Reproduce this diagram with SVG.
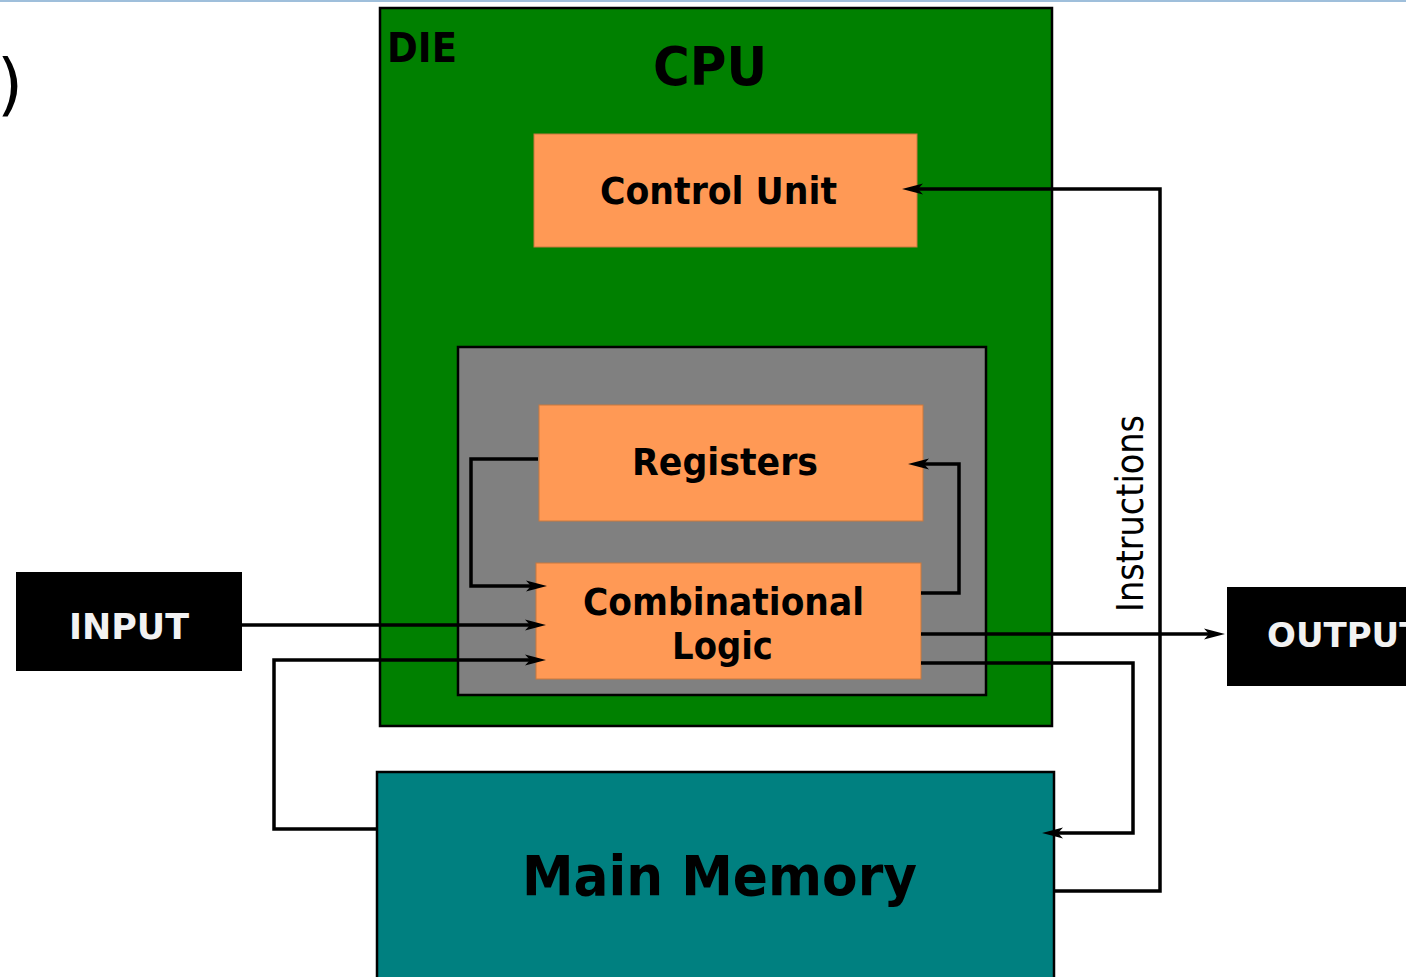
<svg xmlns="http://www.w3.org/2000/svg" width="1406" height="977" viewBox="0 0 1406 977">
<style>
.lbl{font-family:"DejaVu Sans","Liberation Sans",sans-serif;font-weight:bold;fill:#000}
.wlbl{font-family:"DejaVu Sans","Liberation Sans",sans-serif;font-weight:bold;fill:#f2f2f2}
.orange{fill:#ff9955;stroke:#c8783f;stroke-width:1}
.wire{fill:none;stroke:#000;stroke-width:3.5;stroke-linejoin:miter}
</style>
<defs>
<marker id="arr" viewBox="-22 -7 23 14" markerWidth="23" markerHeight="14" refX="-13" refY="0" orient="auto" markerUnits="userSpaceOnUse">
<path d="M0,0 L-21,-5.5 L-16,0 L-21,5.5 Z" fill="#000"/>
</marker>
</defs>
<rect x="0" y="0" width="1406" height="2" fill="#9fbfdb"/>
<text x="-3" y="108" font-family="DejaVu Sans, sans-serif" font-size="67" fill="#000">)</text>

<g id="die">
<rect x="380" y="8" width="672" height="718" fill="#008000" stroke="#000" stroke-width="2.5"/>
<text class="lbl" x="387" y="62" font-size="40" textLength="70" lengthAdjust="spacingAndGlyphs">DIE</text>
<text class="lbl" x="710" y="85" font-size="53" text-anchor="middle" textLength="114" lengthAdjust="spacingAndGlyphs">CPU</text>
</g>

<g id="control-unit">
<rect class="orange" x="534" y="134" width="383" height="113"/>
<text class="lbl" x="718.5" y="204" font-size="37" text-anchor="middle" textLength="237" lengthAdjust="spacingAndGlyphs">Control Unit</text>
</g>

<g id="alu-area">
<rect x="458" y="347" width="528" height="348" fill="#808080" stroke="#000" stroke-width="2.5"/>
</g>

<g id="registers">
<rect class="orange" x="539" y="405" width="384" height="116"/>
<text class="lbl" x="725" y="475" font-size="37" text-anchor="middle" textLength="186" lengthAdjust="spacingAndGlyphs">Registers</text>
</g>

<g id="combinational-logic">
<rect class="orange" x="536" y="563" width="385" height="116"/>
<text class="lbl" x="723.5" y="615" font-size="37" text-anchor="middle" textLength="281" lengthAdjust="spacingAndGlyphs">Combinational</text>
<text class="lbl" x="722.5" y="659" font-size="37" text-anchor="middle" textLength="101" lengthAdjust="spacingAndGlyphs">Logic</text>
</g>

<g id="main-memory">
<rect x="377" y="772" width="677" height="215" fill="#008080" stroke="#000" stroke-width="2.5"/>
<text class="lbl" x="719.5" y="895" font-size="55" text-anchor="middle" textLength="395" lengthAdjust="spacingAndGlyphs">Main Memory</text>
</g>

<g id="input">
<rect x="16" y="572" width="226" height="99" fill="#000"/>
<text class="wlbl" x="129" y="639" font-size="36" text-anchor="middle" textLength="120" lengthAdjust="spacingAndGlyphs">INPUT</text>
</g>

<g id="output">
<rect x="1227" y="587" width="185" height="99" fill="#000"/>
<text class="wlbl" x="1267" y="647" font-size="34">OUTPUT</text>
</g>

<g id="connectors">
<polyline class="wire" points="538,459 471,459 471,586 534,586" marker-end="url(#arr)"/>
<polyline class="wire" points="921,593 959,593 959,464 921,464" marker-end="url(#arr)"/>
<polyline class="wire" points="242,625 533,625" marker-end="url(#arr)"/>
<polyline class="wire" points="377,829 274,829 274,660 533,660" marker-end="url(#arr)"/>
<polyline class="wire" points="921,634 1212,634" marker-end="url(#arr)"/>
<polyline class="wire" points="921,663 1133,663 1133,833 1055,833" marker-end="url(#arr)"/>
<polyline class="wire" points="1055,891 1160,891 1160,189 915,189" marker-end="url(#arr)"/>
<text x="1143" y="513.5" transform="rotate(-90 1143 513.5)" font-family="DejaVu Sans, sans-serif" font-size="37" text-anchor="middle" textLength="197" lengthAdjust="spacingAndGlyphs" fill="#000">Instructions</text>
</g>
</svg>
